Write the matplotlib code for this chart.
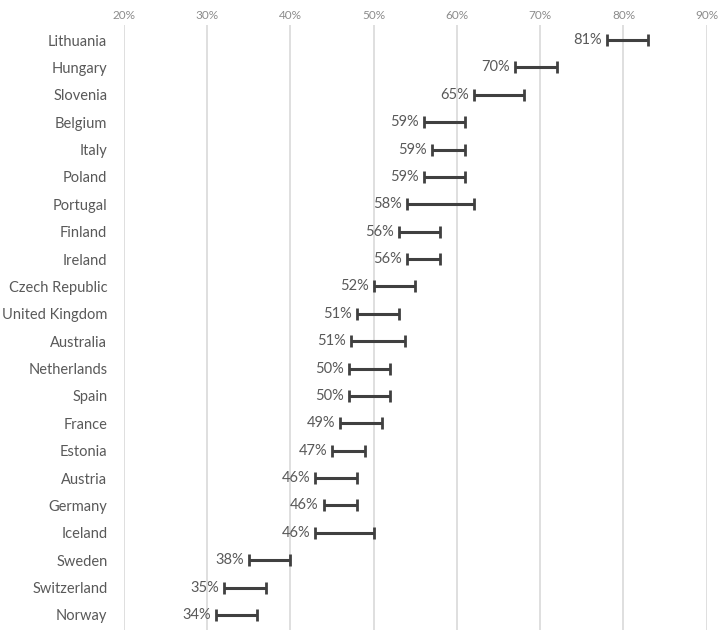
import matplotlib.pyplot as plt
from matplotlib.ticker import PercentFormatter

# Intervalos por país (limite inferior, superior) e valor estimado
paises = ["Lithuania", "Hungary", "Slovenia", "Belgium", "Italy", "Poland",
          "Portugal", "Finland", "Ireland", "Czech Republic", "United Kingdom",
          "Australia", "Netherlands", "Spain", "France", "Estonia", "Austria",
          "Germany", "Iceland", "Sweden", "Switzerland", "Norway"]
valores = [81, 70, 65, 59, 59, 59, 58, 56, 56, 52, 51, 51, 50, 50, 49, 47,
           46, 46, 46, 38, 35, 34]
inferior = [78, 67, 62, 56, 57, 56, 54, 53, 54, 50, 48, 47.3, 47, 47, 46, 45,
            43, 44, 43, 35, 32, 31]
superior = [83, 72, 68, 61, 61, 61, 62, 58, 58, 55, 53, 53.8, 52, 52, 51, 49,
            48, 48, 50, 40, 37, 36]
ticks_x = [20, 30, 40, 50, 60, 70, 80, 90]

plt.rcParams['font.family'] = ['Lato', 'DejaVu Sans']
cinza = "#595959"

fig = plt.figure(figsize=(7.2, 6.3), dpi=100)
ax = fig.add_axes([124 / 720, 0, (706.7 - 124) / 720, 1 - 25 / 630])

pos = list(range(len(paises)))
centro = [(a + b) / 2 for a, b in zip(inferior, superior)]
meia = [(b - a) / 2 for a, b in zip(inferior, superior)]

ax.errorbar(centro, pos, xerr=meia, fmt="none", ecolor="#404040",
            elinewidth=2.2, capsize=4, capthick=2, zorder=3)

for y, v, lo in zip(pos, valores, inferior):
    ax.text(lo - 0.6, y, f"{v}%", ha="right", va="center", fontsize=10.5,
            color=cinza)

ax.set_xlim(20, 90)
ax.set_ylim(len(paises) - 0.452, -0.548)
ax.set_xticks(ticks_x)
ax.xaxis.set_major_formatter(PercentFormatter(decimals=0))
ax.xaxis.tick_top()
ax.set_yticks(pos)
ax.set_yticklabels(paises)
ax.tick_params(axis="x", length=0, pad=3, labelsize=8.5, labelcolor="#8c8c8c")
ax.tick_params(axis="y", length=0, pad=12, labelsize=10.5, labelcolor=cinza)
ax.grid(axis="x", color="#d9d9d9", linewidth=1.2)
ax.set_axisbelow(True)
for s in ax.spines.values():
    s.set_visible(False)

plt.savefig("out.png", dpi=100)
